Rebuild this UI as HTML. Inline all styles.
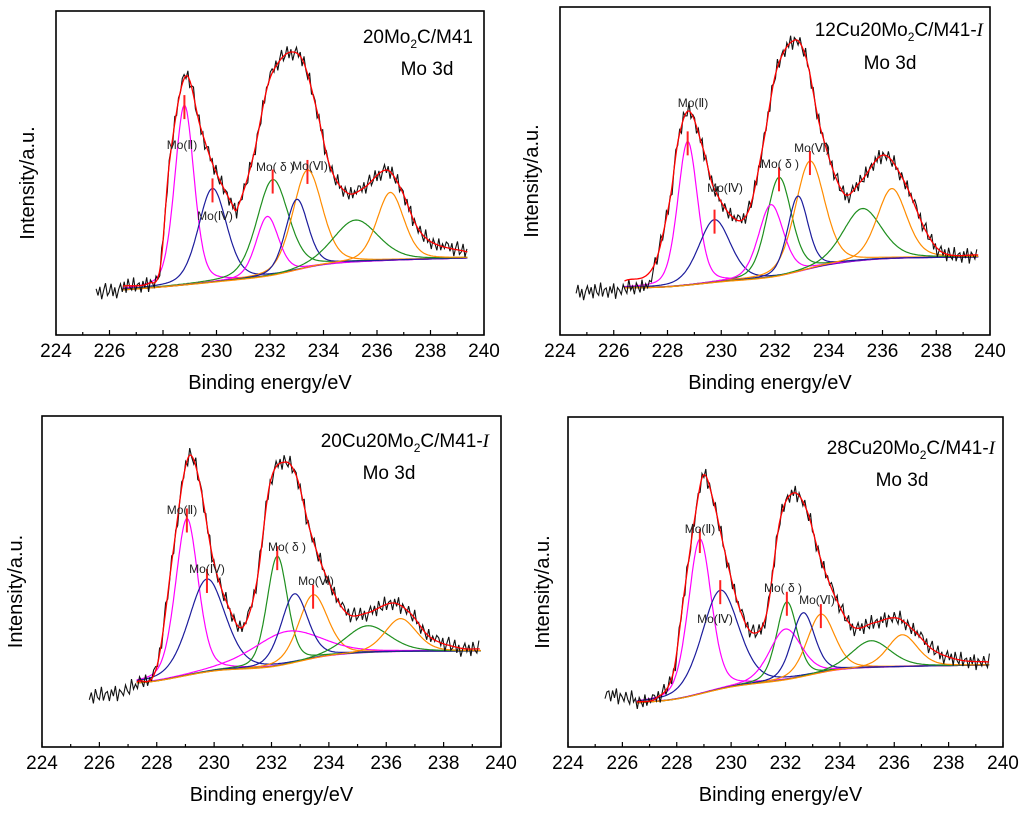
<!DOCTYPE html>
<html><head><meta charset="utf-8"><style>
html,body{margin:0;padding:0;background:#fff;}
svg{display:block;}
text{font-family:"Liberation Sans",sans-serif;}
</style></head><body>
<svg id="fig" width="1024" height="817" viewBox="0 0 1024 817" xmlns="http://www.w3.org/2000/svg"></svg>
<script>
// ---------- shared data ----------
const tickVals = [224,225,226,227,228,229,230,231,232,233,234,235,236,237,238,239,240];
const tickLabels = ["224","226","228","230","232","234","236","238","240"];
const noise = [3,-2,4,-5,1,6,-3,-1,5,-4,2,-6,0,4,-2,3,-5,5,-1,-3,6,-4,1,2,-5,3,-2,5,-6,2,0,-3,4,-1,-4,6,-2,1,-5,3,0,-4,5,-3,2,-1,4];
const compColors = ["#ff00ff","#1c1c9c","#1f8f1f","#ff8c00","#ff00ff","#1c1c9c","#1f8f1f","#ff8c00"];
const markerLabels = ["Mo(\u2161)","Mo(\u2163)","Mo( \u03b4 )","Mo(\u2165)"];

// ---------- panel 1: 20Mo2C/M41 ----------
const p1EnvE = [226.5,227.5,227.9,228.25,228.85,229.4,229.9,230.6,230.75,231.37,231.9,232.3,232.8,233.25,233.75,234.25,234.9,235.5,236.35,236.86,237.5,238.1,239.4];
const p1EnvI = [49,52,68,175,259,208,168,130,125,178,248,272,283,273,225,168,142,147,165,148,108,92,83];
const p1BgE = [226.5,228,230,232,234,236,239.4];
const p1BgI = [45,48,53,59,70,74,77];
const p1PeakE = [228.8,229.85,232.1,233.4,231.9,233.0,235.2,236.5];
const p1PeakH = [180,94,96,98,60,71,42,68];
const p1PeakW = [0.85,1.25,1.4,1.3,1.0,1.0,2.0,1.2];
const p1PreE = [225.5,226.5]; const p1PreI = [42,46];
const p1MarkE = [228.8,229.85,232.1,233.4];

// ---------- panel 2: 12Cu20Mo2C/M41-I ----------
const p2EnvE = [226.4,227.47,228.09,228.4,228.8,229.34,229.71,230.57,231.07,231.57,232.06,232.75,233.18,233.68,234.55,235.17,236.04,236.78,237.65,238.27,239.57];
const p2EnvI = [54,68,135,195,224,185,148,115,128,192,265,295,275,208,142,153,180,155,102,82,80];
const p2BgE = [226.4,228,230,232,234,236,239.57];
const p2BgI = [47,48,53,58,70,76,78];
const p2PeakE = [228.75,229.75,232.15,233.3,231.85,232.85,235.25,236.35];
const p2PeakH = [144,63,99,108,73,76,52,70];
const p2PeakW = [0.87,1.4,1.1,1.3,1.1,0.9,1.7,1.3];
const p2PreE = [224.6,226.4,227.4]; const p2PreI = [43,45,47];
const p2MarkE = [228.75,229.75,232.15,233.3];

// ---------- panel 3: 20Cu20Mo2C/M41-I ----------
const p3EnvE = [227.3,228.0,228.58,228.93,229.18,229.5,229.97,230.55,231.0,231.48,231.95,232.47,232.88,233.34,233.92,234.62,235.32,236.24,236.83,237.52,238.57,239.27];
const p3EnvI = [65,80,197,270,292,264,187,137,120,164,264,285,270,217,170,134,134,144,134,110,99,98];
const p3BgE = [227.3,228,230,232,234,236,239.3];
const p3BgI = [64,66,76,80,91,95,96];
const p3PeakE = [229.05,229.75,232.2,233.45,232.5,232.8,235.35,236.5];
const p3PeakH = [157,93,110,64,33,69,27,33];
const p3PeakW = [0.93,1.5,0.85,1.2,2.8,1.1,1.8,1.3];
const p3PreE = [225.65,226.8,227.3]; const p3PreI = [50,55,62];
const p3MarkE = [229.05,229.75,232.2,233.45];

// ---------- panel 4: 28Cu20Mo2C/M41-I ----------
const p4EnvE = [226.53,227.26,227.87,228.24,228.67,228.98,229.34,229.84,230.33,230.82,231.31,231.8,232.29,232.78,233.27,233.88,234.49,235.23,236.09,236.7,237.44,238.42,239.52];
const p4EnvI = [45,49,74,147,230,272,247,187,137,114,134,227,254,237,190,147,120,124,129,117,97,87,85];
const p4BgE = [226.53,228,230,232,234,236,239.52];
const p4BgI = [44,48,60,67,77,80,82];
const p4PeakE = [228.85,229.6,232.05,233.3,232.0,232.65,235.15,236.3];
const p4PeakH = [155,99,78,59,51,64,27,32];
const p4PeakW = [1.0,1.6,0.9,1.2,1.4,1.0,1.7,1.3];
const p4PreE = [225.36,226.53]; const p4PreI = [54,47];
const p4MarkE = [228.85,229.6,232.05,233.3];

// ---------- layout (not data) ----------
const panels = [
 {id:"p1", L:56,R:484,T:11,B:335, envE:p1EnvE,envI:p1EnvI,bgE:p1BgE,bgI:p1BgI,pE:p1PeakE,pH:p1PeakH,pW:p1PeakW,preE:p1PreE,preI:p1PreI,mE:p1MarkE,
  title:["20Mo","2","C/M41",""], titleX:473,titleY:43, subX:427,subY:75, labXY:[[182,145],[215,216],[275,167],[310,166]], ylabX:27},
 {id:"p2", L:560,R:990,T:7,B:335, envE:p2EnvE,envI:p2EnvI,bgE:p2BgE,bgI:p2BgI,pE:p2PeakE,pH:p2PeakH,pW:p2PeakW,preE:p2PreE,preI:p2PreI,mE:p2MarkE,
  title:["12Cu20Mo","2","C/M41-","I"], titleX:983,titleY:36, subX:890,subY:69, labXY:[[693,103],[725,188],[780,164],[812,148]], ylabX:531},
 {id:"p3", L:42,R:501,T:416,B:747, envE:p3EnvE,envI:p3EnvI,bgE:p3BgE,bgI:p3BgI,pE:p3PeakE,pH:p3PeakH,pW:p3PeakW,preE:p3PreE,preI:p3PreI,mE:p3MarkE,
  title:["20Cu20Mo","2","C/M41-","I"], titleX:489,titleY:447, subX:389,subY:479, labXY:[[182,510],[207,569],[287,547],[316,581]], ylabX:15},
 {id:"p4", L:568,R:1003,T:417,B:747, envE:p4EnvE,envI:p4EnvI,bgE:p4BgE,bgI:p4BgI,pE:p4PeakE,pH:p4PeakH,pW:p4PeakW,preE:p4PreE,preI:p4PreI,mE:p4MarkE,
  title:["28Cu20Mo","2","C/M41-","I"], titleX:995,titleY:454, subX:902,subY:486, labXY:[[700,529],[715,619],[783,588],[817,600]], ylabX:542}
];

const NS = "http://www.w3.org/2000/svg";
const svg = document.getElementById("fig");
function mk(tag, attrs, parent){ const e=document.createElementNS(NS,tag); for(const k in attrs) e.setAttribute(k,attrs[k]); (parent||svg).appendChild(e); return e; }

function linInterp(xs, ys, x){
  if(x<=xs[0]) return ys[0];
  if(x>=xs[xs.length-1]) return ys[ys.length-1];
  for(let i=0;i<xs.length-1;i++){ if(x<=xs[i+1]){ const t=(x-xs[i])/(xs[i+1]-xs[i]); return ys[i]+t*(ys[i+1]-ys[i]); } }
}
function crInterp(xs, ys, x){
  const n=xs.length;
  if(x<=xs[0]) return ys[0];
  if(x>=xs[n-1]) return ys[n-1];
  let i=0; while(i<n-2 && x>xs[i+1]) i++;
  const x0=xs[i], x1=xs[i+1], y0=ys[i], y1=ys[i+1];
  const m0 = i>0 ? (ys[i+1]-ys[i-1])/(xs[i+1]-xs[i-1]) : (y1-y0)/(x1-x0);
  const m1 = i<n-2 ? (ys[i+2]-ys[i])/(xs[i+2]-xs[i]) : (y1-y0)/(x1-x0);
  const h=x1-x0, t=(x-x0)/h, t2=t*t, t3=t2*t;
  return (2*t3-3*t2+1)*y0 + (t3-2*t2+t)*h*m0 + (-2*t3+3*t2)*y1 + (t3-t2)*h*m1;
}
function pv(E, c, h, w){
  const d=E-c, q=4*d*d/(w*w);
  return h*(0.7*Math.exp(-Math.log(2)*q) + 0.3/(1+q));
}

panels.forEach((p, pi) => {
  const g = mk("g", {});
  
  
  const xS = E => p.L + (E-224)*(p.R-p.L)/16;
  const yS = I => p.B - I;

  const frame = mk("rect", {x:p.L, y:p.T, width:p.R-p.L, height:p.B-p.T, fill:"none", stroke:"#000", "stroke-width":1.6}, g);
  
  

  tickVals.forEach(v => {
    const major = (v%2===0);
    const t = mk("line", {x1:xS(v), x2:xS(v), y1:p.B, y2:p.B-(major?5:3), stroke:"#000", "stroke-width":1.2}, g);
    
    
  });
  tickLabels.forEach(s => {
    const t = mk("text", {x:xS(+s), y:p.B+22, "text-anchor":"middle", "font-size":19, fill:"#000"}, g);
    t.textContent = s;
    
    
  });
  const xl = mk("text", {x:(p.L+p.R)/2 + (pi%2===0? 0: -5), y:p.B+54, "text-anchor":"middle", "font-size":20, fill:"#000"}, g);
  xl.textContent = "Binding energy/eV";
  
  
  const yc = (p.T+p.B)/2 + 10;
  const yl = mk("text", {x:p.ylabX, y:yc, "text-anchor":"middle", "font-size":20, fill:"#000", transform:`rotate(-90 ${p.ylabX} ${yc})`, dy:7}, g);
  yl.textContent = "Intensity/a.u.";
  
  

  const tt = mk("text", {x:p.titleX, y:p.titleY, "text-anchor":"end", "font-size":19, fill:"#000"}, g);
  
  
  const s1 = mk("tspan", {}, tt); s1.textContent = p.title[0];
  const s2 = mk("tspan", {dy:5, "font-size":12}, tt); s2.textContent = p.title[1];
  const s3 = mk("tspan", {dy:-5}, tt); s3.textContent = p.title[2];
  if(p.title[3]){ const s4 = mk("tspan", {"font-family":"Liberation Serif, serif", "font-style":"italic"}, tt); s4.textContent = p.title[3]; }
  const st = mk("text", {x:p.subX, y:p.subY, "text-anchor":"middle", "font-size":19, fill:"#000"}, g);
  st.textContent = "Mo 3d";
  
  

  const E0 = p.bgE[0], E1 = p.bgE[p.bgE.length-1];
  const bgAt = E => crInterp(p.bgE, p.bgI, E);

  p.pE.forEach((c, k) => {
    let d = "";
    for(let E=E0; E<=E1+1e-6; E+=0.04){
      const I = bgAt(E) + pv(E, c, p.pH[k], p.pW[k]);
      d += (d?"L":"M") + xS(E).toFixed(1) + "," + yS(I).toFixed(1);
    }
    const path = mk("path", {d, fill:"none", stroke:compColors[k], "stroke-width":1.2}, g);
    
    
  });

  let dd = "", idx = pi*7;
  const dStart = p.preE[0], envStart = p.envE[0], dEnd = p.envE[p.envE.length-1];
  for(let E=dStart; E<=dEnd+1e-6; E+=0.07){
    let I;
    if(E < envStart) I = linInterp(p.preE, p.preI, E);
    else I = crInterp(p.envE, p.envI, E);
    if(E >= envStart && E < p.preE[p.preE.length-1]) I = Math.min(I, linInterp(p.preE, p.preI, E)+2);
    I += noise[idx % noise.length]*1.4;
    idx++;
    dd += (dd?"L":"M") + xS(E).toFixed(1) + "," + yS(I).toFixed(1);
  }
  const dp = mk("path", {d:dd, fill:"none", stroke:"#111", "stroke-width":1.1}, g);
  
  

  let de = "";
  for(let E=p.envE[0]; E<=dEnd+1e-6; E+=0.04){
    de += (de?"L":"M") + xS(E).toFixed(1) + "," + yS(crInterp(p.envE, p.envI, E)).toFixed(1);
  }
  const ep = mk("path", {d:de, fill:"none", stroke:"#ff0000", "stroke-width":1.3}, g);
  
  

  p.mE.forEach((c, k) => {
    const top = bgAt(c) + pv(c, c, p.pH[k], p.pW[k]);
    const m = mk("line", {x1:xS(c), x2:xS(c), y1:yS(top)-10, y2:yS(top)+14, stroke:"#ff2020", "stroke-width":2}, g);
    
    
    const lb = mk("text", {x:p.labXY[k][0], y:p.labXY[k][1]+4, "text-anchor":"middle", "font-size":12, fill:"#222"}, g);
    lb.textContent = markerLabels[k];
    
    
  });
});
</script>
</body></html>
